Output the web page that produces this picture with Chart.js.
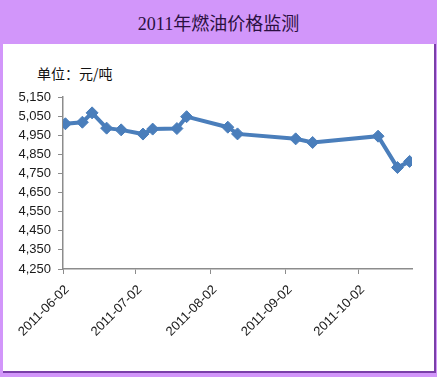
<!DOCTYPE html>
<html>
<head>
<meta charset="utf-8">
<script src="https://cdn.jsdelivr.net/npm/chart.js@4"></script>
<style>
  html, body { margin: 0; padding: 0; }
  body { width: 437px; height: 377px; background: #d296fa; position: relative; overflow: hidden; }
  #title { position: absolute; left: 0; top: 14px; width: 437px; text-align: center;
    font: 18px/20px "Liberation Serif", "Noto Sans CJK SC", serif; color: #2a1040; }
  #panel { position: absolute; left: 3px; top: 44px; width: 431px; height: 327px; background: #fff;
    border-right: 2px solid #7a3fa8; border-bottom: 2px solid #7a3fa8; }
  #unit { position: absolute; left: 37px; top: 63px; font: 14px "Noto Sans CJK SC", sans-serif; color: #111; }
  canvas { position: absolute; left: 0; top: 0; }
</style>
</head>
<body>
<div id="title">2011年燃油价格监测</div>
<div id="panel"></div>
<div id="unit">单位：元/吨</div>
<canvas id="chart" width="437" height="377"></canvas>
<script>
const startDate = "2011-06-02";
const endDate = "2011-10-24";
const dates = [
  "2011-06-03", "2011-06-10", "2011-06-14", "2011-06-20", "2011-06-26",
  "2011-07-05", "2011-07-09", "2011-07-19", "2011-07-23", "2011-08-09",
  "2011-08-13", "2011-09-06", "2011-09-13", "2011-10-10", "2011-10-18",
  "2011-10-23"
];
const prices = [
  5010, 5018, 5067, 4987, 4978,
  4956, 4982, 4985, 5047, 4992,
  4957, 4931, 4912, 4945, 4781,
  4813
];
const xTickLabels = ["2011-06-02", "2011-07-02", "2011-08-02", "2011-09-02", "2011-10-02"];
const yTicks = [4250, 4350, 4450, 4550, 4650, 4750, 4850, 4950, 5050, 5150];

const dayOf = (d) => (Date.parse(d) - Date.parse(startDate)) / 86400000;
const labelByDay = {};
xTickLabels.forEach((d) => { labelByDay[dayOf(d)] = d; });

const lineColor = "#4a7ebb";
const axisColor = "#8c8c8c";
const fontColor = "#1a1a1a";

new Chart(document.getElementById("chart"), {
  type: "line",
  data: {
    datasets: [{
      data: dates.map((d, i) => ({ x: dayOf(d), y: prices[i] })),
      borderColor: lineColor,
      backgroundColor: lineColor,
      borderWidth: 4,
      pointStyle: "rectRot",
      pointRadius: 6,
      pointBorderWidth: 1,
      pointBorderColor: lineColor,
      pointBackgroundColor: lineColor,
      tension: 0,
    }],
  },
  options: {
    responsive: false,
    animation: false,
    devicePixelRatio: 1,
    layout: { padding: { top: 97, right: 25, left: 0, bottom: 0 } },
    plugins: { legend: { display: false }, tooltip: { enabled: false } },
    scales: {
      x: {
        type: "linear",
        min: 0,
        max: dayOf(endDate),
        afterBuildTicks: (scale) => {
          scale.ticks = xTickLabels.map((d) => ({ value: dayOf(d) }));
        },
        afterFit: (scale) => { scale.height = 108; },
        ticks: {
          autoSkip: false,
          minRotation: 45,
          maxRotation: 45,
          padding: 8,
          labelOffset: 4,
          color: fontColor,
          font: { family: "Liberation Sans", size: 13 },
          callback: (v) => labelByDay[v] || "",
        },
        grid: { drawOnChartArea: false, tickLength: 5, color: axisColor },
        border: { color: axisColor, width: 1.5 },
      },
      y: {
        min: 4250,
        max: 5150,
        afterBuildTicks: (scale) => {
          scale.ticks = yTicks.map((v) => ({ value: v }));
        },
        afterFit: (scale) => { scale.width = 63; },
        ticks: {
          padding: 7,
          color: fontColor,
          font: { family: "Liberation Sans", size: 13 },
          callback: (v) => v.toLocaleString("en-US"),
        },
        grid: { drawOnChartArea: false, tickLength: 5, color: axisColor },
        border: { color: axisColor, width: 1.5 },
      },
    },
  },
});
</script>
</body>
</html>
